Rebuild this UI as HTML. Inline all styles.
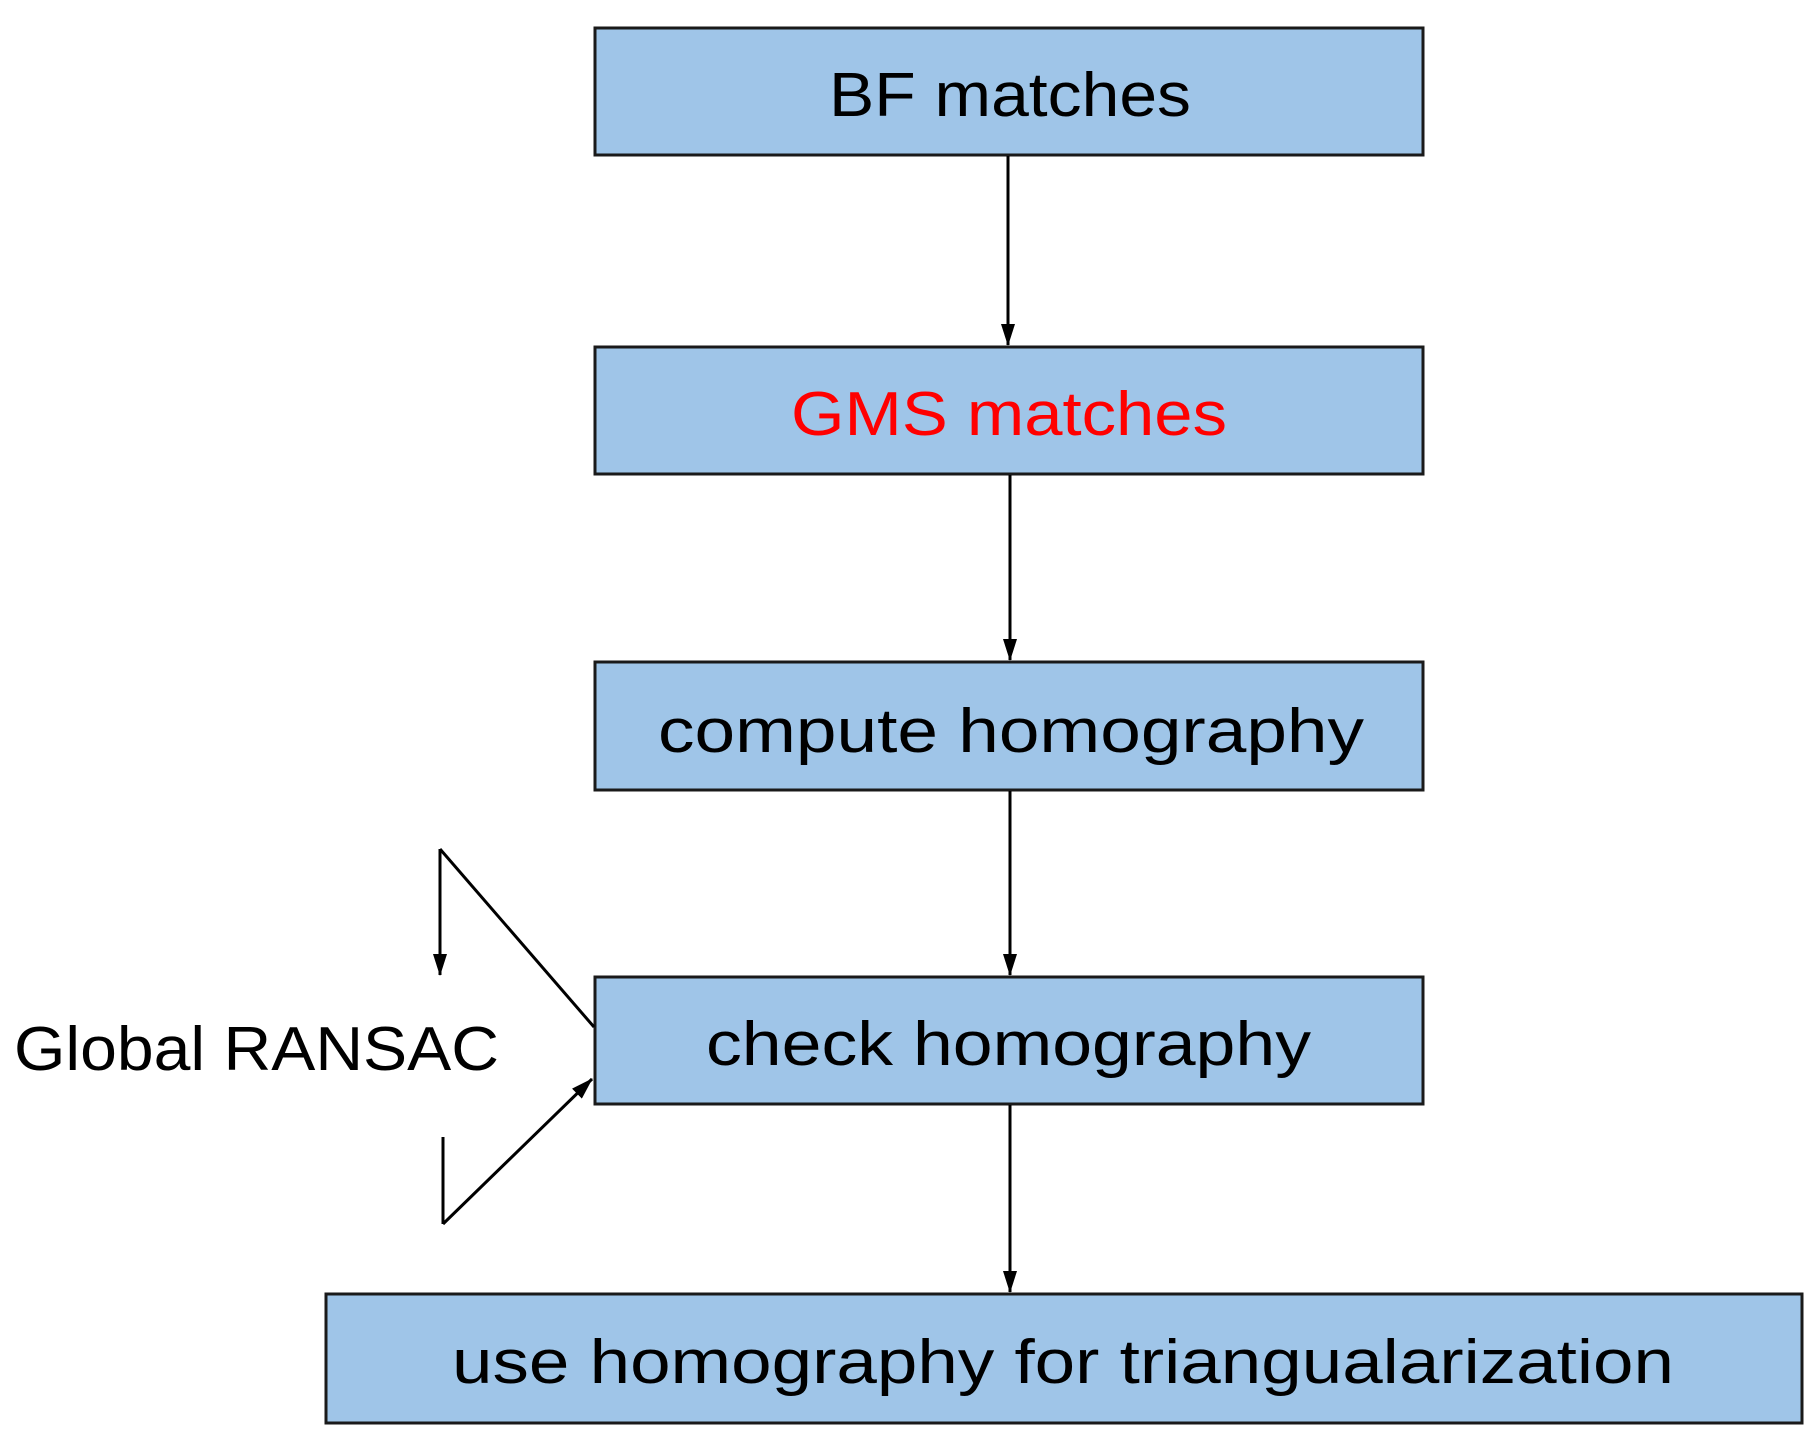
<!DOCTYPE html>
<html><head><style>html,body{margin:0;padding:0;background:#fff;}svg{display:block;}</style></head>
<body>
<svg width="1819" height="1449" viewBox="0 0 1819 1449" xmlns="http://www.w3.org/2000/svg">
<defs>
<marker id="a" markerWidth="10" markerHeight="12" refX="9" refY="6" orient="auto" markerUnits="userSpaceOnUse" viewBox="0 0 10 12">
<path d="M0,0 L10,6 L0,12 Z" fill="#000"/>
</marker>
<marker id="b" markerWidth="22" markerHeight="14" refX="21" refY="7" orient="auto" markerUnits="userSpaceOnUse" viewBox="0 0 22 14">
<path d="M0,0 L22,7 L0,14 Z" fill="#000"/>
</marker>
</defs>
<g fill="#9fc5e8" stroke="#1a1a1a" stroke-width="3">
<rect x="595" y="28" width="828" height="127"/>
<rect x="595" y="347" width="828" height="127"/>
<rect x="595" y="662" width="828" height="128"/>
<rect x="595" y="977" width="828" height="127"/>
<rect x="326" y="1294" width="1476" height="129"/>
</g>
<g stroke="#000" stroke-width="3" fill="none" marker-end="url(#b)">
<line x1="1008" y1="156" x2="1008" y2="345"/>
<line x1="1010" y1="475" x2="1010" y2="660"/>
<line x1="1010" y1="791" x2="1010" y2="975"/>
<line x1="1010" y1="1105" x2="1010" y2="1292"/>
<line x1="440" y1="849" x2="440" y2="975"/>
<line x1="443" y1="1224" x2="592" y2="1079"/>
</g>
<g stroke="#000" stroke-width="3" fill="none">
<polyline points="594,1027 440,849"/>
<line x1="443" y1="1137" x2="443" y2="1224"/>
</g>
<g font-family="Liberation Sans, sans-serif" font-size="62" fill="#000">
<text x="829" y="116" textLength="362" lengthAdjust="spacingAndGlyphs">BF matches</text>
<text x="791" y="435" textLength="436" lengthAdjust="spacingAndGlyphs" fill="#ff0000">GMS matches</text>
<text x="658" y="752" textLength="706" lengthAdjust="spacingAndGlyphs">compute homography</text>
<text x="706" y="1065" textLength="605" lengthAdjust="spacingAndGlyphs">check homography</text>
<text x="452" y="1383" textLength="1222" lengthAdjust="spacingAndGlyphs">use homography for triangualarization</text>
<text x="14" y="1070" textLength="485" lengthAdjust="spacingAndGlyphs">Global RANSAC</text>
</g>
</svg>
</body></html>
